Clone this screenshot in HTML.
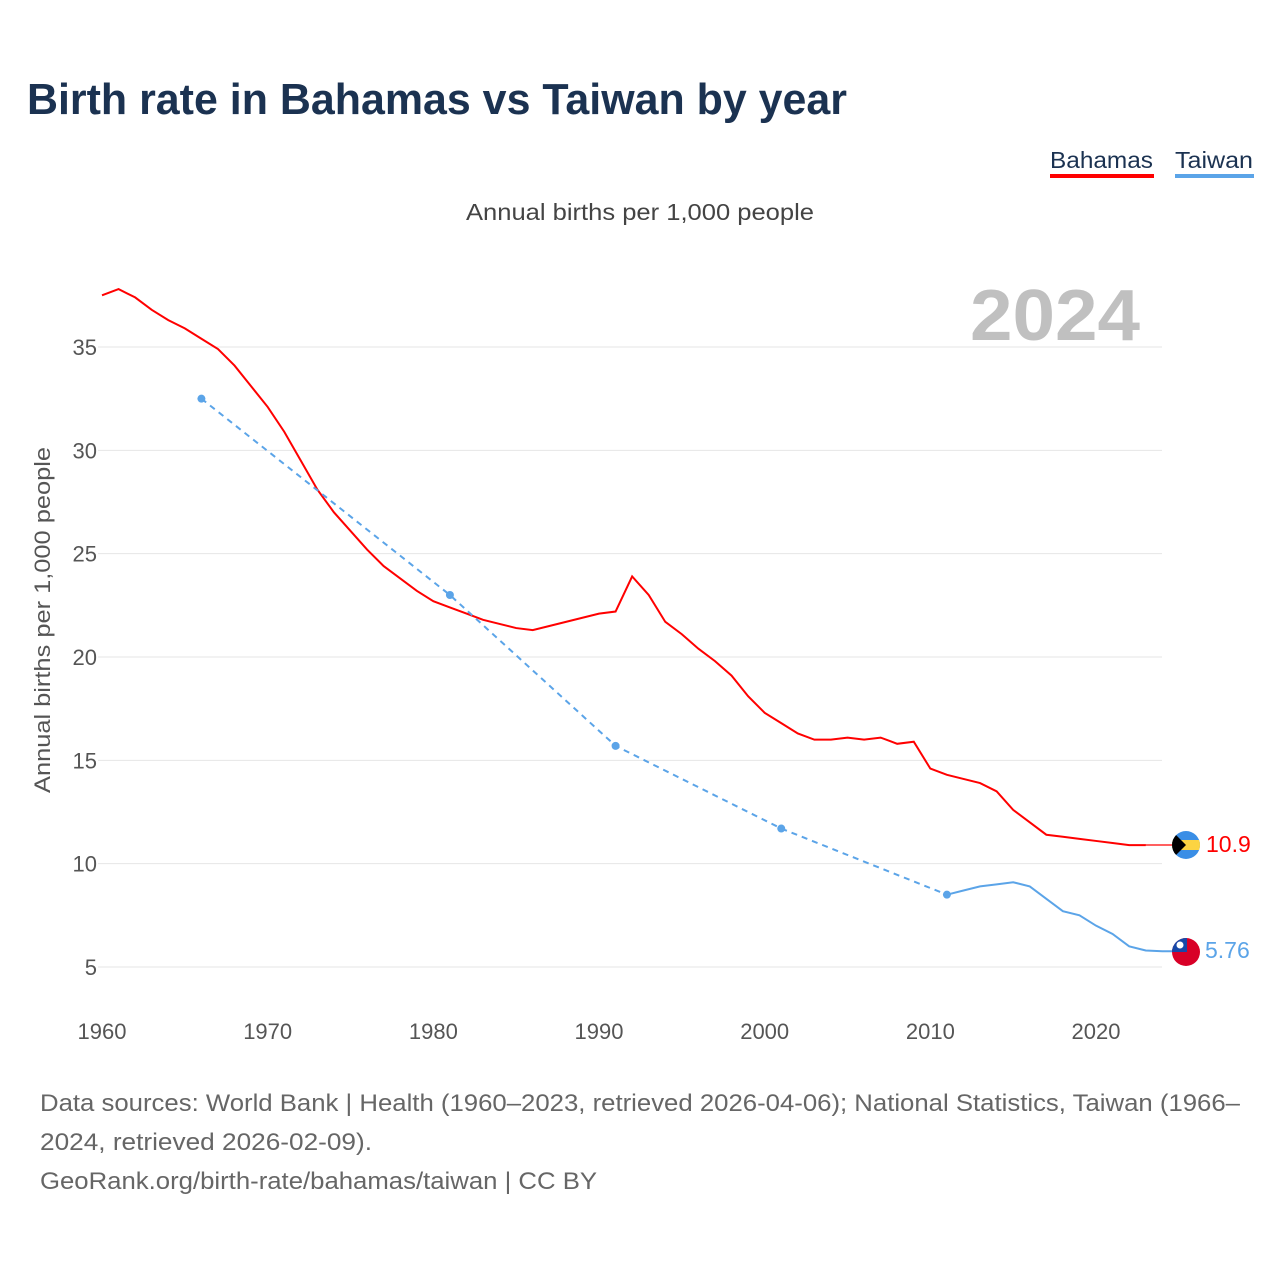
<!DOCTYPE html>
<html><head><meta charset="utf-8"><style>
body{margin:0;background:#fff;width:1280px;height:1280px;overflow:hidden;font-family:"Liberation Sans",sans-serif}
</style></head><body>
<svg id="s" width="1280" height="1280" xmlns="http://www.w3.org/2000/svg" font-family="Liberation Sans, sans-serif">
<text x="27" y="114" font-size="44" font-weight="bold" fill="#1b3251" textLength="820" lengthAdjust="spacingAndGlyphs">Birth rate in Bahamas vs Taiwan by year</text>
<text x="1050" y="168" font-size="23" fill="#1b3251" textLength="103" lengthAdjust="spacingAndGlyphs">Bahamas</text>
<rect x="1050" y="174" width="104" height="4" fill="#ff0000"/>
<text x="1175" y="168" font-size="23" fill="#1b3251" textLength="78" lengthAdjust="spacingAndGlyphs">Taiwan</text>
<rect x="1175" y="174" width="79" height="4" fill="#5ba4e8"/>
<text x="466" y="220" font-size="23" fill="#444" textLength="348" lengthAdjust="spacingAndGlyphs">Annual births per 1,000 people</text>
<text x="1140" y="340" font-size="72" font-weight="bold" fill="#c0c0c0" text-anchor="end" textLength="170" lengthAdjust="spacingAndGlyphs">2024</text>
<text transform="translate(50,620) rotate(-90)" font-size="22" fill="#555" text-anchor="middle" textLength="346" lengthAdjust="spacingAndGlyphs">Annual births per 1,000 people</text>
<g id="grid"></g>
<g font-size="22" fill="#555" id="lab"></g>
<polyline id="bah" fill="none" stroke="#ff0000" stroke-width="2"/>
<line x1="1145" y1="845" x2="1175" y2="845" stroke="#ff0000" stroke-width="1.2"/>
<polyline id="twd" fill="none" stroke="#5ba4e8" stroke-width="2" stroke-dasharray="6,5"/>
<polyline id="tws" fill="none" stroke="#5ba4e8" stroke-width="2"/>
<g id="dots" fill="#5ba4e8"></g>
<defs><clipPath id="c1"><circle cx="1186" cy="845" r="14"/></clipPath><clipPath id="c2"><circle cx="1186" cy="952" r="14"/></clipPath></defs>
<g clip-path="url(#c1)"><rect x="1172" y="831" width="28" height="28" fill="#3a8ee6"/><rect x="1172" y="840" width="28" height="10" fill="#fcd442"/><polygon points="1172,831 1186,845 1172,859" fill="#000"/></g>
<g clip-path="url(#c2)"><rect x="1172" y="938" width="28" height="28" fill="#d80027"/><rect x="1172" y="938" width="15" height="14" fill="#1748a8"/><circle cx="1180" cy="945" r="3.5" fill="#fff"/></g>
<text x="1206" y="852" font-size="23" fill="#ff0000">10.9</text>
<text x="1205" y="958" font-size="23" fill="#5ba4e8">5.76</text>
<text x="40" y="1111" font-size="24" fill="#666" textLength="1200" lengthAdjust="spacingAndGlyphs">Data sources: World Bank | Health (1960–2023, retrieved 2026-04-06); National Statistics, Taiwan (1966–</text>
<text x="40" y="1150" font-size="24" fill="#666" textLength="332" lengthAdjust="spacingAndGlyphs">2024, retrieved 2026-02-09).</text>
<text x="40" y="1189" font-size="24" fill="#666" textLength="557" lengthAdjust="spacingAndGlyphs">GeoRank.org/birth-rate/bahamas/taiwan | CC BY</text>
</svg>
<script>
var X=y=>102+(y-1960)*16.567,Y=v=>967-(v-5)*20.667,NS="http://www.w3.org/2000/svg";
function el(p,t,a,txt){var e=document.createElementNS(NS,t);for(var k in a)e.setAttribute(k,a[k]);if(txt)e.textContent=txt;document.getElementById(p).appendChild(e);}
[5,10,15,20,25,30,35].forEach(v=>{el("grid","line",{x1:98,x2:1162,y1:Y(v),y2:Y(v),stroke:"#e6e6e6","stroke-width":1});el("lab","text",{x:97,y:Y(v)+8,"text-anchor":"end"},v)});
[1960,1970,1980,1990,2000,2010,2020].forEach(y=>el("lab","text",{x:X(y),y:1039,"text-anchor":"middle"},y));
var b=[37.5,37.8,37.4,36.8,36.3,35.9,35.4,34.9,34.1,33.1,32.1,30.9,29.5,28.1,27.0,26.1,25.2,24.4,23.8,23.2,22.7,22.4,22.1,21.8,21.6,21.4,21.3,21.5,21.7,21.9,22.1,22.2,23.9,23.0,21.7,21.1,20.4,19.8,19.1,18.1,17.3,16.8,16.3,16.0,16.0,16.1,16.0,16.1,15.8,15.9,14.6,14.3,14.1,13.9,13.5,12.6,12.0,11.4,11.3,11.2,11.1,11.0,10.9,10.9];
document.getElementById("bah").setAttribute("points",b.map((v,i)=>X(1960+i)+","+Y(v)).join(" "));
var d=[[1966,32.5],[1981,23.0],[1991,15.7],[2001,11.7],[2011,8.5]];
document.getElementById("twd").setAttribute("points",d.map(p=>X(p[0])+","+Y(p[1])).join(" "));
d.forEach(p=>el("dots","circle",{cx:X(p[0]),cy:Y(p[1]),r:4}));
var s=[[2011,8.5],[2012,8.7],[2013,8.9],[2014,9.0],[2015,9.1],[2016,8.9],[2017,8.3],[2018,7.7],[2019,7.5],[2020,7.0],[2021,6.6],[2022,6.0],[2023,5.8],[2024,5.76]];
document.getElementById("tws").setAttribute("points",s.map(p=>X(p[0])+","+Y(p[1])).join(" ")+" 1175,"+Y(5.76));
</script>
</body></html>
